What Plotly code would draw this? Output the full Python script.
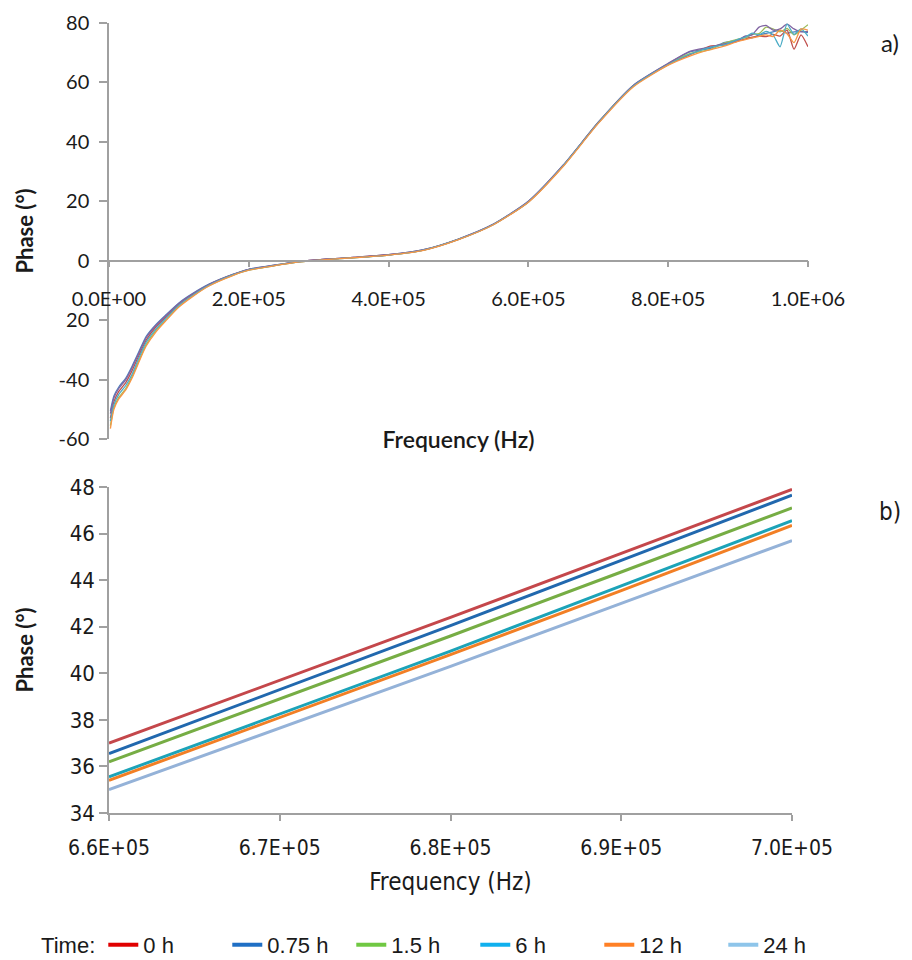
import plotly.graph_objects as go

# ---------------- data ----------------
times = ["0 h", "0.75 h", "1.5 h", "6 h", "12 h", "24 h"]

# panel a) full sweep
freq_a = [2e3, 7e3, 1.4e4, 2.4e4, 3.3e4, 4.3e4, 5.3e4, 6.7e4, 8.1e4, 1.0e5,
          1.2e5, 1.43e5, 1.77e5, 2.0e5, 2.34e5, 2.72e5, 3.1e5, 3.5e5, 4.0e5, 4.5e5,
          5.0e5, 5.5e5, 6.0e5, 6.5e5, 7.0e5, 7.5e5, 8.0e5, 8.3e5, 8.6e5, 8.8e5,
          9.0e5, 9.1e5, 9.2e5, 9.3e5, 9.4e5, 9.5e5, 9.6e5, 9.7e5, 9.8e5, 9.9e5, 1.0e6]

phase_a_1 = [-50.5, -45.5, -42.5, -39.5, -35.5, -30.5, -25.5, -21.5, -18.3, -14.2,
             -11.0, -7.9, -4.6, -2.9, -1.6, -0.3, 0.5, 1.1, 2.0, 3.7,
             7.3, 12.3, 20.0, 32.2, 46.6, 59.0, 66.3, 70.2, 71.5, 73.4,
             74.3, 75.5, 75.0, 76.0, 76.5, 77.0, 77.5, 76.6, 77.0, 77.2, 76.8]
phase_a_2 = [-53.0, -47.5, -44.0, -41.0, -37.0, -31.8, -26.8, -22.3, -19.0, -14.7,
             -11.3, -8.1, -4.7, -3.0, -1.7, -0.3, 0.5, 1.1, 2.0, 3.6,
             7.2, 12.2, 19.8, 32.0, 46.4, 58.8, 66.0, 69.2, 72.2, 72.6,
             74.0, 74.6, 75.2, 75.6, 75.4, 76.2, 75.6, 77.6, 71.2, 76.0, 72.0]
phase_a_3 = [-55.5, -49.5, -46.0, -43.0, -39.0, -33.5, -28.3, -23.5, -20.0, -15.4,
             -11.8, -8.4, -4.9, -3.2, -1.8, -0.4, 0.4, 1.0, 1.9, 3.6,
             7.2, 12.2, 19.8, 32.0, 46.5, 58.8, 66.2, 69.6, 71.0, 73.2,
             74.6, 75.0, 76.2, 76.4, 78.6, 78.0, 77.0, 78.2, 76.0, 77.6, 79.4]
phase_a_4 = [-51.5, -46.2, -43.0, -40.0, -36.0, -31.0, -26.0, -21.8, -18.6, -14.4,
             -11.1, -8.0, -4.7, -2.9, -1.6, -0.3, 0.5, 1.1, 2.0, 3.7,
             7.3, 12.3, 20.0, 32.2, 46.6, 59.0, 66.4, 70.4, 71.9, 73.0,
             74.0, 75.6, 76.0, 78.6, 79.2, 77.6, 78.0, 79.6, 78.0, 77.0, 77.2]
phase_a_5 = [-54.0, -48.5, -45.0, -42.0, -38.2, -32.6, -27.5, -23.0, -19.5, -15.0,
             -11.6, -8.3, -4.8, -3.1, -1.7, -0.4, 0.4, 1.0, 1.9, 3.6,
             7.2, 12.2, 19.8, 32.0, 46.4, 58.7, 66.0, 69.4, 71.8, 72.6,
             74.5, 75.2, 76.6, 76.0, 77.2, 76.0, 72.0, 79.6, 76.2, 78.0, 75.6]
phase_a_6 = [-56.5, -50.0, -46.5, -43.5, -39.5, -34.0, -28.8, -24.0, -20.3, -15.6,
             -12.0, -8.5, -5.0, -3.2, -1.8, -0.4, 0.4, 1.0, 1.9, 3.5,
             7.1, 12.1, 19.7, 31.8, 46.2, 58.5, 65.8, 68.8, 71.0, 72.2,
             73.8, 74.4, 75.0, 75.5, 76.0, 75.4, 77.6, 76.4, 73.4, 78.0, 77.6]

# panel b) zoom 660-700 kHz
freq_b = [6.6e5, 6.7e5, 6.8e5, 6.9e5, 7.0e5]
phase_b_0h = [37.0, 39.7, 42.4, 45.15, 47.9]
phase_b_075h = [36.55, 39.3, 42.05, 44.85, 47.65]
phase_b_15h = [36.2, 38.9, 41.6, 44.35, 47.1]
phase_b_6h = [35.55, 38.25, 40.95, 43.75, 46.55]
phase_b_12h = [35.4, 38.1, 40.8, 43.55, 46.35]
phase_b_24h = [35.0, 37.65, 40.3, 43.0, 45.7]

# tick labels
xa_tickvals = [0, 2e5, 4e5, 6e5, 8e5, 1e6]
xa_ticktext = ["0.0E+00", "2.0E+05", "4.0E+05", "6.0E+05", "8.0E+05", "1.0E+06"]
ya_tickvals = [-60, -40, -20, 0, 20, 40, 60, 80]
ya_ticktext = ["-60", "-40", "20", "0", "20", "40", "60", "80"]
xb_tickvals = [6.6e5, 6.7e5, 6.8e5, 6.9e5, 7.0e5]
xb_ticktext = ["6.6E+05", "6.7E+05", "6.8E+05", "6.9E+05", "7.0E+05"]
yb_tickvals = [34, 36, 38, 40, 42, 44, 46, 48]

# ---------------- styles ----------------
colors_a = ["#4F81BD", "#C0504D", "#9BBB59", "#8064A2", "#4BACC6", "#F79646"]
colors_b = ["#C4474B", "#2168AE", "#76AD44", "#1CA3B8", "#F27F25", "#94B2D8"]
colors_legend = ["#E00000", "#1F6FC5", "#70C843", "#10B0EE", "#FF8025", "#8EC5EA"]

FONT_A = "Lato, Open Sans, sans-serif"
FONT_B = "Liberation Sans Narrow, DejaVu Sans Condensed, sans-serif"
FONT_L = "Liberation Sans, Arial, sans-serif"
AXIS_COLOR = "#A0A0A0"
TXT = "#1a1a1a"

fig = go.Figure()

series_a = [phase_a_1, phase_a_2, phase_a_3, phase_a_4, phase_a_5, phase_a_6]
for name, ys, c in zip(times, series_a, colors_a):
    fig.add_trace(go.Scatter(x=freq_a, y=ys, mode="lines", name=name,
                             line=dict(color=c, width=1.3, shape="spline", smoothing=0.6),
                             showlegend=False, xaxis="x", yaxis="y"))

series_b = [phase_b_0h, phase_b_075h, phase_b_15h, phase_b_6h, phase_b_12h, phase_b_24h]
for name, ys, c in zip(times, series_b, colors_b):
    fig.add_trace(go.Scatter(x=freq_b, y=ys, mode="lines", name=name,
                             line=dict(color=c, width=3),
                             showlegend=False, xaxis="x2", yaxis="y2"))

# legend entries
for name, c in zip(times, colors_legend):
    fig.add_trace(go.Scatter(x=[None], y=[None], mode="lines", name=name,
                             line=dict(color=c, width=4),
                             showlegend=True, xaxis="x2", yaxis="y2"))

# layout geometry (the page body adds an 8 px offset, so the figure is 904x952)
W, H = 904, 952
ML, MR, MT, MB = 101, 104, 15, 147
H_PLOT = H - MT - MB  # 790
top_dom = [(813 - 439) / H_PLOT, 1.0]
bot_dom = [0.0, (813 - 487) / H_PLOT]
zero_pos = top_dom[0] + (60 / 140) * (top_dom[1] - top_dom[0])
xb_dom = [0.0, (792 - 109) / 699.0]

common_ax = dict(showgrid=False, zeroline=False, linecolor=AXIS_COLOR, linewidth=1.5,
                 tickcolor=AXIS_COLOR, tickwidth=1.5, automargin=False)
overlay_ax = dict(showgrid=False, zeroline=False, tickcolor=AXIS_COLOR, tickwidth=1.5,
                  automargin=False, showticklabels=False, showline=False)

fig.update_layout(
    width=W, height=H,
    margin=dict(l=ML, r=MR, t=MT, b=MB, autoexpand=False),
    paper_bgcolor="white", plot_bgcolor="white",
    font=dict(family=FONT_A, color=TXT),
    xaxis=dict(domain=[0, 1], range=[0, 1e6], anchor="free", position=zero_pos,
               tickvals=xa_tickvals, ticktext=xa_ticktext, ticks="outside", ticklen=6,
               showline=True, ticklabelstandoff=15,
               tickfont=dict(family=FONT_A, size=20, color=TXT),
               title=dict(text="Frequency (Hz)", standoff=121,
                          font=dict(family=FONT_A, size=23, color=TXT, weight=600)),
               **common_ax),
    yaxis=dict(domain=top_dom, range=[-60, 80], anchor="x",
               tickvals=ya_tickvals, ticktext=ya_ticktext, ticks="outside", ticklen=8,
               showline=True, ticklabelstandoff=6,
               tickfont=dict(family=FONT_A, size=20, color=TXT),
               title=dict(text="Phase (°)", standoff=19,
                          font=dict(family=FONT_A, size=22, color=TXT, weight="bold")),
               **common_ax),
    xaxis3=dict(overlaying="x", anchor="free", position=zero_pos, range=[0, 1e6],
                tickvals=xa_tickvals, ticks="inside", ticklen=6, **overlay_ax),
    yaxis3=dict(overlaying="y", anchor="x", side="left", range=[-60, 80],
                tickvals=ya_tickvals, ticks="inside", ticklen=8, **overlay_ax),
    xaxis2=dict(domain=xb_dom, range=[6.6e5, 7.0e5], anchor="y2",
                tickvals=xb_tickvals, ticktext=xb_ticktext, ticks="outside", ticklen=6,
                showline=True, ticklabelstandoff=9,
                tickfont=dict(family=FONT_B, size=21, color=TXT),
                title=dict(text="Frequency (Hz)", standoff=14,
                           font=dict(family=FONT_B, size=24, color=TXT)),
                **common_ax),
    yaxis2=dict(domain=bot_dom, range=[34, 48], anchor="x2",
                tickvals=yb_tickvals, ticks="outside", ticklen=8,
                showline=True, ticklabelstandoff=0,
                tickfont=dict(family=FONT_B, size=22, color=TXT),
                title=dict(text="Phase (°)", standoff=30,
                           font=dict(family=FONT_A, size=22, color=TXT, weight="bold")),
                **common_ax),
    xaxis4=dict(overlaying="x2", anchor="y2", range=[6.6e5, 7.0e5],
                tickvals=xb_tickvals, ticks="inside", ticklen=6, **overlay_ax),
    yaxis4=dict(overlaying="y2", anchor="x2", side="left", range=[34, 48],
                tickvals=yb_tickvals, ticks="inside", ticklen=8, **overlay_ax),
    showlegend=True,
    legend=dict(orientation="h", x=-0.1, xanchor="left", y=-0.167, yanchor="middle",
                font=dict(family=FONT_L, size=22, color=TXT),
                title=dict(text="Time:", side="left", font=dict(family=FONT_L, size=22, color=TXT)),
                entrywidth=79, entrywidthmode="pixels",
                tracegroupgap=0, bgcolor="rgba(0,0,0,0)"),
    annotations=[
        dict(text="a)", x=1.117, y=(813 - 42) / H_PLOT, xref="paper", yref="paper",
             xanchor="center", yanchor="middle",
             showarrow=False, font=dict(family=FONT_A, size=24, color=TXT)),
        dict(text="b)", x=1.117, y=(813 - 512) / H_PLOT, xref="paper", yref="paper",
             xanchor="center", yanchor="middle",
             showarrow=False, font=dict(family=FONT_B, size=24, color=TXT)),
    ],
)

fig.write_html("out.html")
